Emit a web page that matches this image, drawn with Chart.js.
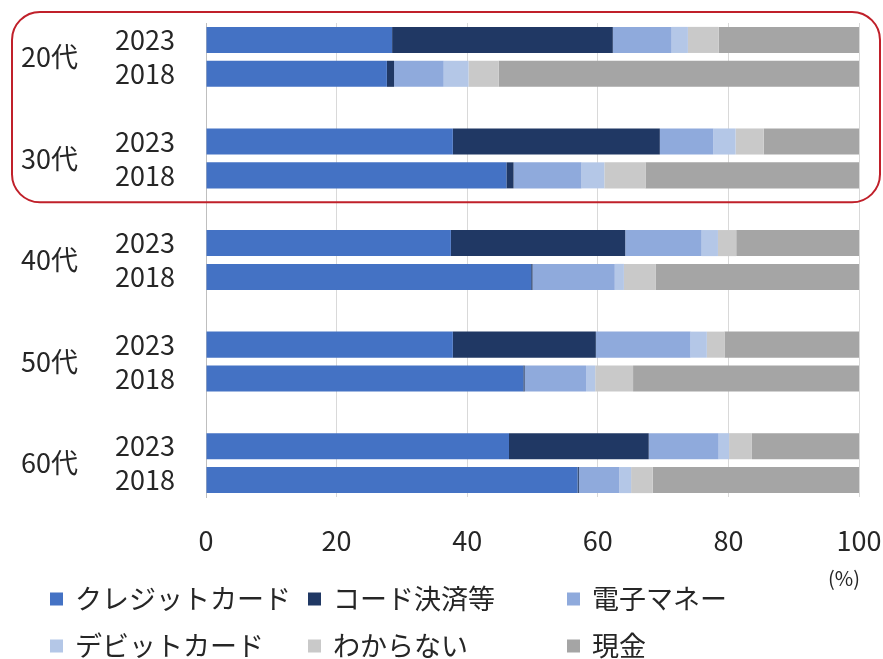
<!DOCTYPE html>
<html lang="ja">
<head>
<meta charset="utf-8">
<title>年代別 支払い手段</title>
<script src="https://cdn.jsdelivr.net/npm/chart.js@4.4.1/dist/chart.umd.min.js"></script>
<style>
  html, body { margin: 0; padding: 0; background: #ffffff; }
  #wrap { width: 883px; height: 659px; }
</style>
</head>
<body>
<div id="wrap"><canvas id="payChart" width="883" height="659"></canvas></div>
<script>
// 年代・調査年
const ageGroups = ['20代', '30代', '40代', '50代', '60代'];
const surveyYears = ['2023', '2018'];

// 各行: 20代2023, 20代2018, 30代2023, 30代2018, ... 60代2018 (%)
const creditCard = [28.5, 27.7, 37.8, 46.0, 37.5, 49.8, 37.8, 48.6, 46.4, 56.9];
const codePay    = [33.8,  1.1, 31.7,  1.1, 26.7,  0.2, 21.9,  0.2, 21.4,  0.2];
const eMoney     = [ 9.0,  7.6,  8.2, 10.4, 11.7, 12.6, 14.5,  9.4, 10.7,  6.2];
const debitCard  = [ 2.5,  3.8,  3.4,  3.5,  2.5,  1.4,  2.5,  1.4,  1.6,  1.8];
const unknown    = [ 4.7,  4.6,  4.3,  6.3,  2.8,  4.9,  2.7,  5.8,  3.5,  3.3];
const cash       = [21.5, 55.2, 14.6, 32.7, 18.8, 31.1, 20.6, 34.6, 16.4, 31.6];

const seriesNames  = ['クレジットカード', 'コード決済等', '電子マネー', 'デビットカード', 'わからない', '現金'];
const seriesColors = ['#4472c4', '#203864', '#8faadc', '#b4c7e7', '#c9c9c9', '#a5a5a5'];
const seriesValues = [creditCard, codePay, eMoney, debitCard, unknown, cash];

const xTicks = [0, 20, 40, 60, 80, 100];

const FONT = '"Noto Sans CJK JP", "Noto Sans", sans-serif';
const FONT_SIZE = 27;
const TEXT_COLOR = '#262626';

// 年代ごとに空行を挟んだラベル配列を作る
const rowLabels = [];
ageGroups.forEach((age, i) => {
    surveyYears.forEach(y => rowLabels.push(y));
    if (i < ageGroups.length - 1) rowLabels.push('');
});

function withGaps(values) {
    const out = [];
    ageGroups.forEach((age, i) => {
        surveyYears.forEach((y, j) => out.push(values[i * surveyYears.length + j]));
        if (i < ageGroups.length - 1) out.push(null);
    });
    return out;
}

const datasets = seriesNames.map((name, k) => ({
    label: name,
    data: withGaps(seriesValues[k]),
    backgroundColor: seriesColors[k],
    borderWidth: 0,
    barPercentage: 0.77,
    categoryPercentage: 1.0
}));

// 年代ラベル・赤枠・凡例を描くプラグイン
const extras = {
    id: 'extras',
    afterDraw(chart) {
        const ctx = chart.ctx;
        const yScale = chart.scales.y;
        const step = surveyYears.length + 1;

        ctx.save();
        ctx.font = FONT_SIZE + 'px ' + FONT;
        ctx.fillStyle = TEXT_COLOR;
        ctx.textAlign = 'left';
        ctx.textBaseline = 'middle';
        ageGroups.forEach((age, i) => {
            const a = yScale.getPixelForValue(i * step);
            const b = yScale.getPixelForValue(i * step + 1);
            ctx.fillText(age, 21, (a + b) / 2);
        });

        // 20代・30代を囲む赤枠
        const top = yScale.getPixelForValue(0) - 28;
        const bottom = yScale.getPixelForValue(step + 1) + 27;
        ctx.strokeStyle = '#c0202a';
        ctx.lineWidth = 2;
        ctx.beginPath();
        ctx.roundRect(12, top, 868, bottom - top, 28);
        ctx.stroke();

        // 単位
        ctx.font = '20px ' + FONT;
        ctx.textAlign = 'center';
        ctx.fillText('(%)', 844, 578);

        // 凡例 (3列×2行)
        const colX = [50, 308, 567];
        const rowY = [599, 646];
        ctx.font = FONT_SIZE + 'px ' + FONT;
        ctx.textAlign = 'left';
        seriesNames.forEach((name, k) => {
            const x = colX[k % 3];
            const y = rowY[Math.floor(k / 3)];
            ctx.fillStyle = seriesColors[k];
            ctx.fillRect(x, y - 6.5, 13, 13);
            ctx.fillStyle = TEXT_COLOR;
            ctx.fillText(name, x + 25, y);
        });
        ctx.restore();
    }
};

new Chart(document.getElementById('payChart').getContext('2d'), {
    type: 'bar',
    data: { labels: rowLabels, datasets: datasets },
    options: {
        indexAxis: 'y',
        responsive: false,
        animation: false,
        layout: { padding: { top: 23, right: 24, bottom: 102, left: 0 } },
        plugins: {
            legend: { display: false },
            tooltip: { enabled: false }
        },
        scales: {
            x: {
                stacked: true,
                min: 0,
                max: 100,
                afterBuildTicks: scale => { scale.ticks = xTicks.map(v => ({ value: v })); },
                ticks: {
                    font: { family: FONT, size: FONT_SIZE },
                    color: TEXT_COLOR,
                    padding: 28,
                    maxRotation: 0
                },
                grid: { color: '#d9d9d9', lineWidth: 1, drawTicks: false },
                border: { display: false },
                afterFit: scale => {
                    scale.height = 60;
                    scale.paddingLeft = 0;
                    scale.paddingRight = 0;
                }
            },
            y: {
                stacked: true,
                offset: true,
                ticks: {
                    font: { family: FONT, size: FONT_SIZE },
                    color: TEXT_COLOR,
                    padding: 31,
                    autoSkip: false
                },
                grid: { display: false, drawTicks: false },
                border: { display: true, color: '#bfbfbf', width: 1 },
                afterFit: scale => {
                    scale.width = 206;
                    scale.paddingTop = 0;
                    scale.paddingBottom = 0;
                }
            }
        }
    },
    plugins: [extras]
});
</script>
</body>
</html>
